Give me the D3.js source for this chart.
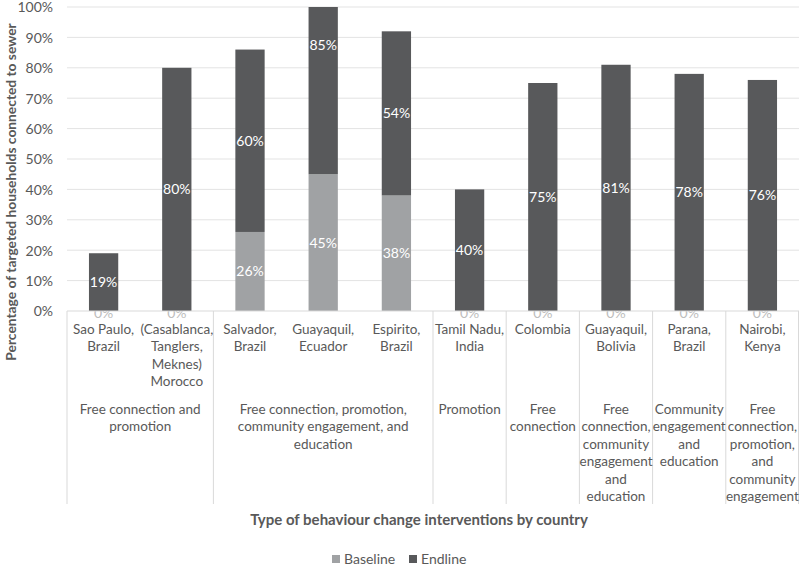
<!DOCTYPE html>
<html>
<head>
<meta charset="utf-8">
<script src="https://cdn.jsdelivr.net/npm/d3@7"></script>
<style>
  body { margin: 0; background: #fff; }
  text { font-family: Lato, "Liberation Sans", sans-serif; fill: #595959; }
</style>
</head>
<body>
<div id="chart"></div>
<script>
// Datos del gráfico
var categories = [
    ["Sao Paulo,", "Brazil"],
    ["(Casablanca,", "Tanglers,", "Meknes)", "Morocco"],
    ["Salvador,", "Brazil"],
    ["Guayaquil,", "Ecuador"],
    ["Espirito,", "Brazil"],
    ["Tamil Nadu,", "India"],
    ["Colombia"],
    ["Guayaquil,", "Bolivia"],
    ["Parana,", "Brazil"],
    ["Nairobi,", "Kenya"]
];
var baseline = [0, 0, 0.26, 0.45, 0.38, 0, 0, 0, 0, 0];
var endline = [0.19, 0.80, 0.60, 0.85, 0.54, 0.40, 0.75, 0.81, 0.78, 0.76];

// Grupos de intervención (índice inicial, índice final, líneas de texto)
var groupStart = [0, 2, 5, 6, 7, 8, 9];
var groupEnd = [1, 4, 5, 6, 7, 8, 9];
var groupLabels = [
    ["Free connection and", "promotion"],
    ["Free connection, promotion,", "community engagement, and", "education"],
    ["Promotion"],
    ["Free", "connection"],
    ["Free", "connection,", "community", "engagement", "and", "education"],
    ["Community", "engagement", "and", "education"],
    ["Free", "connection,", "promotion,", "and", "community", "engagement"]
];
var yTicks = [0, 0.1, 0.2, 0.3, 0.4, 0.5, 0.6, 0.7, 0.8, 0.9, 1.0];
var seriesNames = ["Baseline", "Endline"];
var colors = ["#a0a2a4", "#58595b"];

var width = 800, height = 568;
var margin = { top: 7, right: 1, left: 67, bottom: 257 };
var plotW = width - margin.left - margin.right;
var plotH = height - margin.top - margin.bottom;
var fmt = d3.format(".0%");

var svg = d3.select("#chart").append("svg")
    .attr("width", width)
    .attr("height", height);

var g = svg.append("g")
    .attr("transform", "translate(" + margin.left + "," + margin.top + ")");

var xScale = d3.scaleBand()
    .domain(d3.range(categories.length))
    .range([0, plotW])
    .paddingInner(0.6)
    .paddingOuter(0.3);

var yScale = d3.scaleLinear()
    .domain([0, 1])
    .range([plotH, 0]);

// Líneas de cuadrícula
g.selectAll(".grid")
    .data(yTicks.slice(1))
    .enter().append("line")
    .attr("x1", 0).attr("x2", plotW)
    .attr("y1", function(d) { return yScale(d); })
    .attr("y2", function(d) { return yScale(d); })
    .attr("stroke", "#e3e3e3")
    .attr("stroke-width", 1);

// Etiquetas del eje y
g.selectAll(".ytick")
    .data(yTicks)
    .enter().append("text")
    .attr("x", -14)
    .attr("y", function(d) { return yScale(d); })
    .attr("dy", "0.38em")
    .attr("text-anchor", "end")
    .style("font-size", "14px")
    .text(function(d) { return fmt(d); });

// Segmentos apilados: {i, serie, inicio, valor}
var segments = [];
baseline.forEach(function(b, i) {
    segments.push({ i: i, s: 0, y0: 0, v: b });
    segments.push({ i: i, s: 1, y0: b, v: endline[i] });
});

// Etiquetas 0% (detrás de las barras)
g.selectAll(".zero")
    .data(segments.filter(function(d) { return d.v === 0; }))
    .enter().append("text")
    .attr("x", function(d) { return xScale(d.i) + xScale.bandwidth() / 2; })
    .attr("y", yScale(0))
    .attr("dy", "0.5em")
    .attr("text-anchor", "middle")
    .style("font-size", "14px")
    .style("fill", "#bdbdbd")
    .text("0%");

// Barras apiladas (recortadas al 100%)
g.append("clipPath").attr("id", "clip")
    .append("rect").attr("width", plotW).attr("height", plotH);

g.append("g").attr("clip-path", "url(#clip)")
    .selectAll("rect")
    .data(segments.filter(function(d) { return d.v > 0; }))
    .enter().append("rect")
    .attr("x", function(d) { return xScale(d.i); })
    .attr("width", xScale.bandwidth())
    .attr("y", function(d) { return yScale(d.y0 + d.v); })
    .attr("height", function(d) { return plotH - yScale(d.v); })
    .attr("fill", function(d) { return colors[d.s]; });

// Etiquetas de valores
g.selectAll(".lab")
    .data(segments.filter(function(d) { return d.v > 0; }))
    .enter().append("text")
    .attr("x", function(d) { return xScale(d.i) + xScale.bandwidth() / 2; })
    .attr("y", function(d) { return yScale(d.y0 + d.v / 2); })
    .attr("dy", "0.35em")
    .attr("text-anchor", "middle")
    .style("font-size", "14px")
    .style("fill", "#ffffff")
    .text(function(d) { return fmt(d.v); });

// Eje x
g.append("line")
    .attr("x1", 0).attr("x2", plotW)
    .attr("y1", plotH).attr("y2", plotH)
    .attr("stroke", "#d9d9d9");

var step = xScale.step();
function edge(i) { return xScale(i) - (step - xScale.bandwidth()) / 2; }

// Separadores de grupo
var seps = [0].concat(groupEnd.map(function(e) { return e + 1; }));
g.selectAll(".sep")
    .data(seps)
    .enter().append("line")
    .attr("x1", function(i) { return i < categories.length ? edge(i) : plotW - 0.5; })
    .attr("x2", function(i) { return i < categories.length ? edge(i) : plotW - 0.5; })
    .attr("y1", plotH).attr("y2", plotH + 193)
    .attr("stroke", "#d9d9d9");

// Etiquetas de categorías
var catG = g.selectAll(".cat")
    .data(categories)
    .enter().append("text")
    .attr("text-anchor", "middle")
    .style("font-size", "13.5px")
    .attr("transform", function(d, i) {
        return "translate(" + (xScale(i) + xScale.bandwidth() / 2) + "," + (plotH + 23) + ")";
    });
catG.selectAll("tspan")
    .data(function(d) { return d; })
    .enter().append("tspan")
    .attr("x", 0)
    .attr("y", function(d, j) { return j * 17.4; })
    .text(function(d) { return d; });

// Etiquetas de grupos
var grpG = g.selectAll(".grp")
    .data(groupLabels)
    .enter().append("text")
    .attr("text-anchor", "middle")
    .style("font-size", "13.5px")
    .attr("transform", function(d, k) {
        var cx = (edge(groupStart[k]) + edge(groupEnd[k]) + step) / 2;
        return "translate(" + cx + "," + (plotH + 103) + ")";
    });
grpG.selectAll("tspan")
    .data(function(d) { return d; })
    .enter().append("tspan")
    .attr("x", 0)
    .attr("y", function(d, j) { return j * 17.4; })
    .text(function(d) { return d; });

// Títulos de ejes
svg.append("text")
    .attr("transform", "translate(11," + 192 + ") rotate(-90)")
    .attr("text-anchor", "middle")
    .attr("dy", "0.35em")
    .style("font-size", "13.8px")
    .style("font-weight", "bold")
    .text("Percentage of targeted households connected to sewer");

svg.append("text")
    .attr("x", 419)
    .attr("y", 520)
    .attr("dy", "0.35em")
    .attr("text-anchor", "middle")
    .style("font-size", "15px")
    .style("font-weight", "bold")
    .text("Type of behaviour change interventions by country");

// Leyenda
var legendX = [332, 409];
seriesNames.forEach(function(name, s) {
    svg.append("rect")
        .attr("x", legendX[s]).attr("y", 555)
        .attr("width", 8).attr("height", 8)
        .attr("fill", colors[s]);
    svg.append("text")
        .attr("x", legendX[s] + 12).attr("y", 559)
        .attr("dy", "0.35em")
        .style("font-size", "14px")
        .text(name);
});
</script>
</body>
</html>
